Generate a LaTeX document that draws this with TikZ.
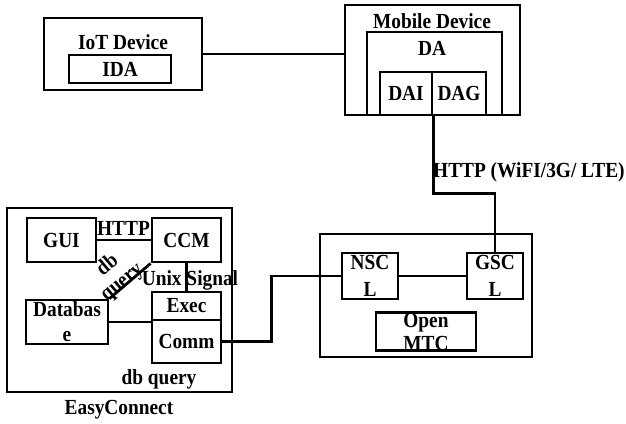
\documentclass[tikz,border=0pt]{standalone}
\usepackage{fontspec}
\setmainfont{Liberation Serif}[FakeStretch=0.9]
\begin{document}
\begin{tikzpicture}[x=1pt,y=-1pt,
  every node/.style={font=\bfseries\fontsize{21.5}{25}\selectfont, inner sep=0pt},
  box/.style={draw, line width=2.8pt, rectangle, align=center},
  wire/.style={line width=2.8pt},
  lbl/.style={align=center}]
\useasboundingbox (0,0) rectangle (626,423);
% IoT device
\node[box, minimum width=158, minimum height=72] (iot) at (123,54) {};
\node[lbl] (iotl) at (123,42) {IoT Device};
\node[box, minimum width=102, minimum height=28] (ida) at (120,69) {IDA};
% Mobile device
\node[box, minimum width=175, minimum height=110] (mob) at (432.5,60) {};
\node[lbl] (mobl) at (432,21) {Mobile Device};
\node[box, minimum width=135, minimum height=83] (da) at (434.5,73.5) {};
\node[lbl] (dal) at (432,48) {DA};
\node[box, minimum width=52, minimum height=43] (dai) at (406,93.5) {DAI};
\node[box, minimum width=54, minimum height=43] (dag) at (459,93.5) {DAG};
% OpenMTC
\node[box, minimum width=212, minimum height=123] (omtc) at (426,295.5) {};
\node[box, minimum width=56, minimum height=46, font=\bfseries\fontsize{21.5}{27}\selectfont] (nscl) at (370,276) {NSC\\L};
\node[box, minimum width=56, minimum height=46, font=\bfseries\fontsize{21.5}{27}\selectfont] (gscl) at (495,276) {GSC\\L};
\node[box, minimum width=100, minimum height=29, font=\bfseries\fontsize{21.5}{23}\selectfont] (open) at (426,331.5) {Open\\MTC};
% EasyConnect
\node[box, minimum width=225, minimum height=184] (ec) at (119.5,300) {};
\node[lbl] (ecl) at (119,410) {EasyConnect};
\node[box, minimum width=69, minimum height=44] (gui) at (61.5,240) {GUI};
\node[box, minimum width=69, minimum height=44] (ccm) at (186.5,240) {CCM};
\node[box, minimum width=82, minimum height=44] (db) at (67,322) {Databas\\e};
\node[box, minimum width=69, minimum height=28] (exec) at (186.5,306) {Exec};
\node[box, minimum width=69, minimum height=43] (comm) at (186.5,341.5) {Comm};
% connectors
\draw[wire] (iot.east) -- (iot.east -| mob.west);
\draw[wire] (dai.south east) -- ++(0,77) -| (gscl.north);
\node[lbl, anchor=west] (httpw) at (433,172) {HTTP (WiFI/3G/ LTE)};
\draw[wire] (nscl.east) -- (gscl.west);
\draw[wire] (comm.east) -- ++(49,0) |- (nscl.west);
\draw[wire] (gui.east) -- (ccm.west);
\node[lbl] (httpl) at (123.5,228) {HTTP};
\draw[wire] (ccm.south west) -- (db.north east);
\node[lbl, rotate=40, font=\bfseries\fontsize{21.5}{22}\selectfont] (dbq1) at (115,274) {db\\query};
\draw[wire] (ccm.south) -- (exec.north);
\node[lbl] (unix) at (190,280) {Unix Signal};
\draw[wire] (db.east) -- (db.east -| comm.west);
\node[lbl] (dbq2) at (159,379) {db query};
\end{tikzpicture}
\end{document}
